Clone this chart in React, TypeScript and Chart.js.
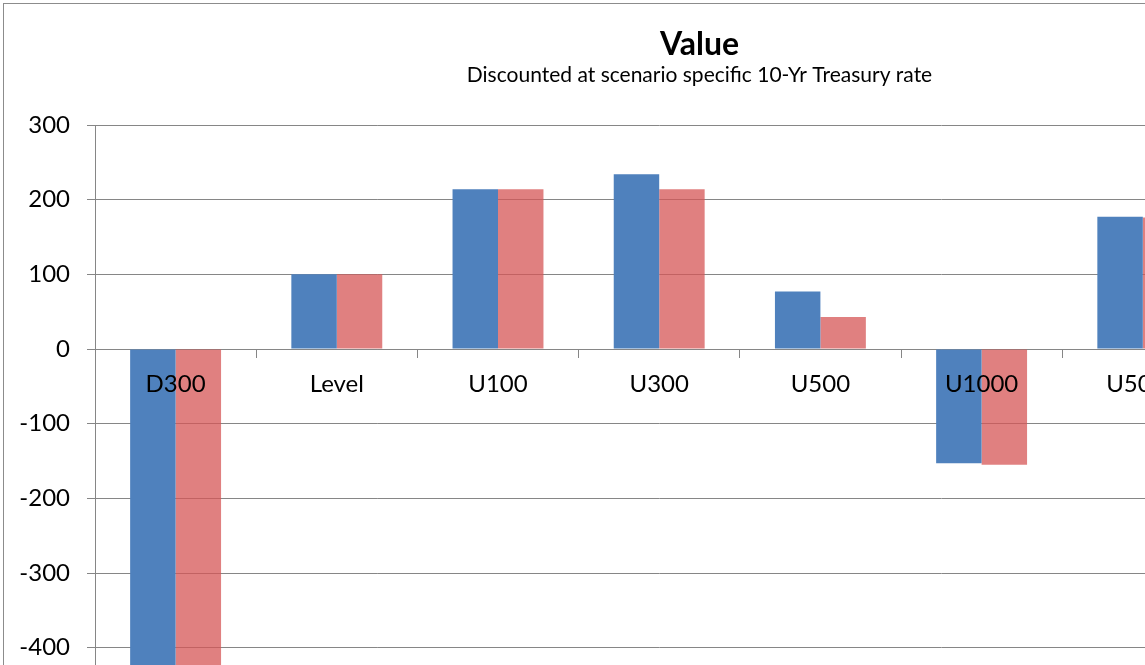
import React, { useEffect, useRef } from "react";
import { Chart, registerables } from "chart.js";

Chart.register(...registerables);

const categories = ["D300", "Level", "U100", "U300", "U500", "U1000", "U5000"];
const seriesBlue = [-470, 100, 214, 234, 77, -153, 177];
const seriesRed = [-470, 100, 214, 214, 43, -155, 176];
const yMin = -500;
const yMax = 300;
const yStep = 100;

const titleText = "Value";
const subtitleText = "Discounted at scenario specific 10-Yr Treasury rate";

const FONT = "Lato, 'Open Sans', sans-serif";
const AXIS_GRAY = "#868686";

const CANVAS_W = 1391;
const CANVAS_H = 760;

const titlePlugin = {
  id: "excelTitle",
  afterDraw(chart: any) {
    const ctx = chart.ctx as CanvasRenderingContext2D;
    const cx = chart.width / 2;
    ctx.save();
    ctx.fillStyle = "#000";
    ctx.textAlign = "center";
    ctx.textBaseline = "alphabetic";
    ctx.font = `bold 32px ${FONT}`;
    ctx.fillText(titleText, cx, 50.5);
    ctx.font = `normal 21px ${FONT}`;
    ctx.fillText(subtitleText, cx, 77.5);
    ctx.restore();
  },
};

export default function App() {
  const canvasRef = useRef<HTMLCanvasElement | null>(null);

  useEffect(() => {
    const canvas = canvasRef.current;
    if (!canvas) return;
    const chart = new Chart(canvas, {
      type: "bar",
      data: {
        labels: categories,
        datasets: [
          {
            label: "Series1",
            data: seriesBlue,
            backgroundColor: "#4F81BD",
            borderWidth: 0,
            categoryPercentage: 0.564,
            barPercentage: 1,
          },
          {
            label: "Series2",
            data: seriesRed,
            backgroundColor: "rgba(214,86,86,0.75)",
            borderWidth: 0,
            categoryPercentage: 0.564,
            barPercentage: 1,
          },
        ],
      },
      options: {
        responsive: false,
        animation: false,
        devicePixelRatio: 1,
        layout: { padding: { left: 0, right: 171.6, top: 121, bottom: 41.6 } },
        plugins: {
          legend: { display: false },
          tooltip: { enabled: false },
          title: { display: false },
        },
        scales: {
          x: {
            position: { y: 0 },
            offset: true,
            grid: {
              display: true,
              drawOnChartArea: false,
              drawTicks: true,
              tickLength: 8,
              color: AXIS_GRAY,
              offset: true,
            },
            border: { display: true, color: AXIS_GRAY, width: 1 },
            ticks: {
              color: "#000",
              font: { family: FONT, size: 24 },
              padding: 13,
              z: 1,
              maxRotation: 0,
              autoSkip: false,
            },
          },
          y: {
            min: yMin,
            max: yMax,
            ticks: {
              stepSize: yStep,
              color: "#000",
              font: { family: FONT, size: 24 },
              padding: 17,
            },
            grid: { color: AXIS_GRAY, tickLength: 8 },
            border: { display: true, color: AXIS_GRAY, width: 1 },
            afterFit: (scale: any) => {
              scale.width = 91;
            },
          },
        },
      },
      plugins: [titlePlugin],
    });
    return () => chart.destroy();
  }, []);

  return (
    <div
      style={{
        position: "fixed",
        left: 3,
        top: 3,
        border: "1px solid #8c8c8c",
        background: "#fff",
        width: CANVAS_W,
        height: CANVAS_H,
      }}
    >
      <canvas ref={canvasRef} width={CANVAS_W} height={CANVAS_H} style={{ display: "block" }} />
    </div>
  );
}
